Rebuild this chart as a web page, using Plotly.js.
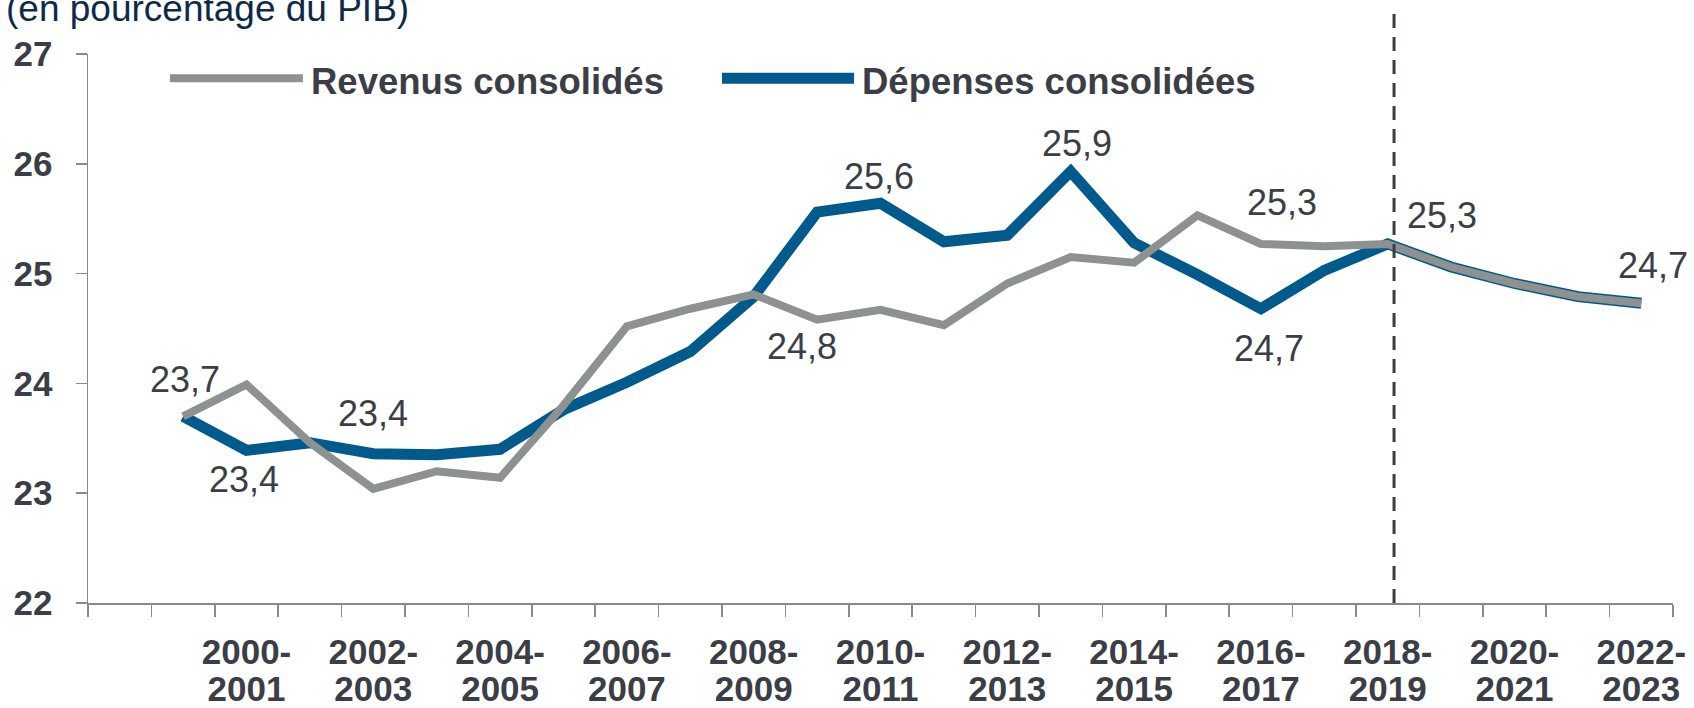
<!DOCTYPE html>
<html>
<head>
<meta charset="utf-8">
<script src="https://cdn.plot.ly/plotly-3.0.1.min.js"></script>
<style>
  html, body { margin: 0; padding: 0; background: #ffffff; }
  #chart { width: 1694px; height: 708px; }
</style>
</head>
<body>
<div id="chart"></div>
<script>
// Periods (first category has no data)
const periods = [
  '1998-1999', '1999-2000', '2000-2001', '2001-2002', '2002-2003', '2003-2004',
  '2004-2005', '2005-2006', '2006-2007', '2007-2008', '2008-2009', '2009-2010',
  '2010-2011', '2011-2012', '2012-2013', '2013-2014', '2014-2015', '2015-2016',
  '2016-2017', '2017-2018', '2018-2019', '2019-2020', '2020-2021', '2021-2022',
  '2022-2023'
];

// en pourcentage du PIB
const revenus = [null, 23.70, 23.99, 23.46, 23.04, 23.20, 23.14, 23.80, 24.52, 24.68,
  24.81, 24.58, 24.67, 24.53, 24.91, 25.15, 25.10, 25.53, 25.27, 25.25, 25.27, 25.06,
  24.91, 24.79, 24.73];
const depenses = [null, 23.70, 23.39, 23.46, 23.36, 23.35, 23.40, 23.76, 24.01, 24.29,
  24.79, 25.56, 25.64, 25.29, 25.35, 25.93, 25.28, 24.99, 24.68, 25.03, 25.27, 25.06,
  24.91, 24.79, 24.73];

// periods whose label is printed under the axis
const labelledPeriods = ['2000-2001', '2002-2003', '2004-2005', '2006-2007', '2008-2009',
  '2010-2011', '2012-2013', '2014-2015', '2016-2017', '2018-2019', '2020-2021', '2022-2023'];

// data labels: which series / period, and the offset of the label from its point
const dataLabels = [
  { series: 'depenses', period: '1999-2000', dx: 2, dy: 37 },
  { series: 'depenses', period: '2000-2001', dx: -3, dy: -29 },
  { series: 'depenses', period: '2002-2003', dx: 0, dy: 40 },
  { series: 'revenus', period: '2008-2009', dx: 48, dy: -52 },
  { series: 'depenses', period: '2010-2011', dx: -2, dy: 27 },
  { series: 'depenses', period: '2013-2014', dx: 6, dy: 28 },
  { series: 'revenus', period: '2016-2017', dx: 21, dy: 41 },
  { series: 'depenses', period: '2016-2017', dx: 8, dy: -40 },
  { series: 'depenses', period: '2018-2019', dx: 54, dy: 28 },
  { series: 'depenses', period: '2022-2023', dx: 12, dy: 38 }
];

const BLUE = '#005a8c';
const GREY = '#8d918f';
const TEXT = '#3b3e46';
const FONT = 'Liberation Sans, Arial, sans-serif';

const xs = periods.map((p, i) => i);
const labelIdx = labelledPeriods.map(p => periods.indexOf(p));
const seriesData = { revenus, depenses };
const fmt = v => v.toFixed(1).replace('.', ',');

const traces = [
  {
    x: xs, y: depenses, mode: 'lines', name: 'Dépenses consolidées',
    line: { color: BLUE, width: 11 }, showlegend: false, hoverinfo: 'skip'
  },
  {
    x: xs, y: revenus, mode: 'lines', name: 'Revenus consolidés',
    line: { color: GREY, width: 8 }, showlegend: false, hoverinfo: 'skip'
  },
  // empty helpers so the two label axes (two text lines per period) get drawn
  { x: xs, y: xs.map(() => null), xaxis: 'x2', mode: 'lines', showlegend: false, hoverinfo: 'skip' },
  { x: xs, y: xs.map(() => null), xaxis: 'x3', mode: 'lines', showlegend: false, hoverinfo: 'skip' }
];

const annotations = dataLabels.map(d => {
  const i = periods.indexOf(d.period);
  const v = seriesData[d.series][i];
  return {
    x: i, y: v, xref: 'x', yref: 'y', text: fmt(v), showarrow: false,
    xshift: d.dx, yshift: d.dy, xanchor: 'center', yanchor: 'middle',
    font: { family: FONT, size: 36, color: TEXT }
  };
});

// unit note, top left
annotations.push({
  xref: 'paper', yref: 'paper', x: -0.053, y: 1.083, xanchor: 'left', yanchor: 'middle',
  text: '(en pourcentage du PIB)', showarrow: false,
  font: { family: FONT, size: 37, color: '#0e2a47' }
});

// legend drawn by hand so the line samples are as long as in the original
const legendItems = [
  { name: 'Revenus consolidés', color: GREY, width: 8, x0: 0.0517, x1: 0.1356 },
  { name: 'Dépenses consolidées', color: BLUE, width: 11, x0: 0.4000, x1: 0.4833 }
];
const legendY = 0.956;
const shapes = [];
legendItems.forEach(item => {
  shapes.push({
    type: 'line', xref: 'paper', yref: 'paper', x0: item.x0, x1: item.x1,
    y0: legendY, y1: legendY, line: { color: item.color, width: item.width }
  });
  annotations.push({
    xref: 'paper', yref: 'paper', x: item.x1 + 0.004, y: legendY, yshift: -3,
    xanchor: 'left', yanchor: 'middle', text: '<b>' + item.name + '</b>', showarrow: false,
    font: { family: FONT, size: 36.5, color: TEXT }
  });
});

// forecast separator
shapes.push({
  type: 'line', xref: 'x', yref: 'paper', x0: 20.1, x1: 20.1, y0: 0, y1: 1.078,
  line: { color: TEXT, width: 3, dash: '14px,9px' }
});

const boundaries = periods.map((p, i) => i - 0.5).concat([periods.length - 0.5]);
const xRange = [-0.5, periods.length - 0.5];

const labelAxis = (texts, standoff) => ({
  overlaying: 'x', anchor: 'y', side: 'bottom', range: xRange,
  tickmode: 'array', tickvals: labelIdx, ticktext: texts,
  ticks: '', ticklabelstandoff: standoff,
  tickfont: { family: FONT, size: 35, color: TEXT, weight: 'bold' },
  showline: false, showgrid: false, zeroline: false, fixedrange: true
});

const layout = {
  width: 1694,
  height: 708,
  margin: { l: 88, r: 21, t: 54, b: 105 },
  paper_bgcolor: '#ffffff',
  plot_bgcolor: '#ffffff',
  showlegend: false,
  xaxis: {
    range: xRange, tickmode: 'array', tickvals: boundaries, showticklabels: false,
    ticks: 'outside', ticklen: 12, tickwidth: 1.5, tickcolor: '#8a8a8a',
    showline: true, linecolor: '#8a8a8a', linewidth: 1.5,
    showgrid: false, zeroline: false, fixedrange: true
  },
  xaxis2: labelAxis(labelIdx.map(i => periods[i].split('-')[0] + '-'), 25),
  xaxis3: labelAxis(labelIdx.map(i => periods[i].split('-')[1]), 62),
  yaxis: {
    range: [22, 27], tickmode: 'linear', tick0: 22, dtick: 1,
    ticks: 'outside', ticklen: 11, tickwidth: 1.5, tickcolor: '#8a8a8a',
    ticklabelstandoff: 16,
    tickfont: { family: FONT, size: 35, color: TEXT, weight: 'bold' },
    showline: true, linecolor: '#8a8a8a', linewidth: 1.5,
    showgrid: false, zeroline: false, fixedrange: true
  },
  annotations: annotations,
  shapes: shapes
};

Plotly.newPlot('chart', traces, layout, { displayModeBar: false, staticPlot: true });
</script>
</body>
</html>
